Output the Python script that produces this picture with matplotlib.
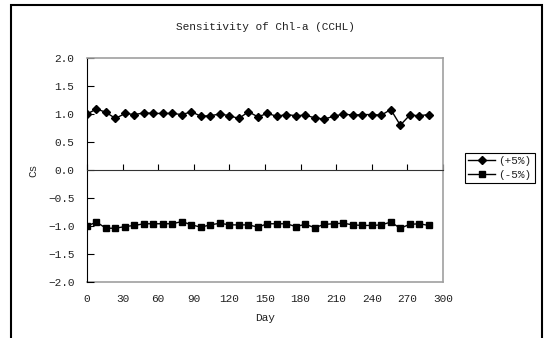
import matplotlib
matplotlib.use("Agg")
import matplotlib.pyplot as plt
from matplotlib.patches import Rectangle

days = list(range(0, 289, 8))
plus5 = [1.00, 1.09, 1.03, 0.92, 1.01, 0.99, 1.02, 1.01, 1.01, 1.01,
         0.99, 1.04, 0.96, 0.97, 1.00, 0.97, 0.92, 1.04, 0.95, 1.01,
         0.96, 0.99, 0.97, 0.98, 0.93, 0.91, 0.96, 1.00, 0.98, 0.99,
         0.99, 0.98, 1.08, 0.80, 0.98, 0.97, 0.99]
minus5 = [-1.00, -0.93, -1.04, -1.04, -1.01, -0.99, -0.96, -0.96, -0.96, -0.96,
          -0.92, -0.98, -1.02, -0.98, -0.95, -0.98, -0.98, -0.98, -1.02, -0.96,
          -0.96, -0.96, -1.01, -0.97, -1.03, -0.97, -0.96, -0.95, -0.98, -0.99,
          -0.99, -0.98, -0.93, -1.04, -0.97, -0.96, -0.99]
labels = ["(+5%)", "(-5%)"]
xticks = list(range(0, 301, 30))
yticks = [2.0, 1.5, 1.0, 0.5, 0.0, -0.5, -1.0, -1.5, -2.0]

FONT = "Liberation Mono"
TXT = "#222222"
W, H = 545, 338

fig = plt.figure(figsize=(W / 100, H / 100), dpi=100)
ax = fig.add_axes([87 / W, 1 - 282 / H, (443 - 87) / W, (282 - 58) / H])

ax.plot(days, plus5, color="black", lw=1, marker="D", ms=4, label=labels[0])
ax.plot(days, minus5, color="black", lw=1, marker="s", ms=5, label=labels[1])

ax.set_xlim(0, 300)
ax.set_ylim(-2, 2)

# spines: black axis lines, grey plot-area border
ax.spines["left"].set_color("black")
ax.spines["bottom"].set_position(("data", 0))
ax.spines["bottom"].set_color("#333333")
for s in ("top", "right"):
    ax.spines[s].set_color("#a0a0a0")
    ax.spines[s].set_linewidth(1.2)

ax.set_xticks(xticks)
ax.tick_params(axis="x", direction="in", length=4, labelbottom=False, color="black")
ax.set_yticks(yticks)
ax.set_yticklabels([f"{v:.1f}".replace("-", "\u2212") for v in yticks],
                   family=FONT, fontsize=8, color=TXT)
ax.tick_params(axis="y", direction="in", length=5, pad=9, color="black")

# tick labels at the bottom of the plot area
sec = ax.secondary_xaxis("bottom")
sec.spines["bottom"].set_color("#a0a0a0")
sec.spines["bottom"].set_linewidth(1.2)
sec.set_xticks(xticks)
sec.set_xticklabels([str(v) for v in xticks], family=FONT, fontsize=8, color=TXT)
sec.tick_params(axis="x", length=0, pad=9)

fig.text(265 / W, 1 - 27 / H, "Sensitivity of Chl-a (CCHL)", family=FONT,
         fontsize=8, color=TXT, ha="center", va="center")
fig.text(33 / W, 1 - 170 / H, "Cs", family=FONT, fontsize=8, color=TXT,
         rotation=90, ha="center", va="center")
fig.text(265 / W, 1 - 318 / H, "Day", family=FONT, fontsize=8, color=TXT,
         ha="center", va="center")

leg = fig.legend(loc="upper left", bbox_to_anchor=(465 / W, 1 - 153 / H),
                 prop={"family": FONT, "size": 8}, fancybox=False,
                 edgecolor="black", framealpha=1, handlelength=2.4,
                 borderpad=0.3, labelspacing=0.3, handletextpad=0.3,
                 borderaxespad=0)
leg.get_frame().set_linewidth(0.8)
for t in leg.get_texts():
    t.set_color(TXT)

# outer chart frame
fig.patches.append(Rectangle((11 / W, -0.05), (542 - 11) / W, 1.05 - 5 / H,
                             transform=fig.transFigure, fill=False,
                             edgecolor="black", lw=1.5))

fig.savefig("out.png", dpi=100)
